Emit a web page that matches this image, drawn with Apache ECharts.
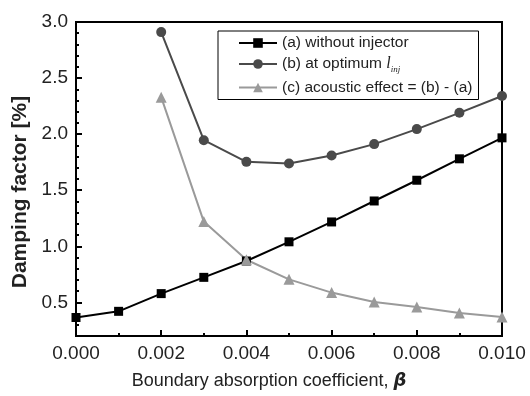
<!DOCTYPE html>
<html>
<head>
    <meta charset="utf-8">
    <title>Damping factor</title>
    <script src="https://cdn.jsdelivr.net/npm/echarts@6/dist/echarts.min.js"></script>
    <style>
        html, body { margin: 0; padding: 0; background: #fff; }
        #chart1 { width: 530px; height: 396px; }
    </style>
</head>
<body>
<div id="chart1"></div>
<script type="text/javascript">
    // boundary absorption coefficient (x)
    var betaValues = [0, 0.001, 0.002, 0.003, 0.004, 0.005, 0.006, 0.007, 0.008, 0.009, 0.010];
    // (a) without injector
    var withoutInjector = [0.365, 0.42, 0.578, 0.723, 0.869, 1.04, 1.217, 1.404, 1.589, 1.78, 1.967];
    // (b) at optimum l_inj
    var atOptimum = [null, null, 2.91, 1.946, 1.753, 1.738, 1.81, 1.911, 2.045, 2.19, 2.34];
    // (c) acoustic effect = (b) - (a)
    var acousticEffect = [null, null, 2.33, 1.22, 0.88, 0.705, 0.587, 0.503, 0.458, 0.405, 0.369];
    // y tick labels
    var yTickLabels = [0.5, 1.0, 1.5, 2.0, 2.5, 3.0];

    function pairs(ys) {
        var out = [];
        for (var i = 0; i < betaValues.length; i++) {
            if (ys[i] !== null) out.push([betaValues[i], ys[i]]);
        }
        return out;
    }

    var font = 'Liberation Sans, Arial, sans-serif';

    var chart = echarts.init(document.getElementById('chart1'));
    chart.setOption({
        animation: false,
        grid: {
            left: 76, right: 28, top: 22, bottom: 60,
            show: true, borderColor: '#000', borderWidth: 2, backgroundColor: 'transparent'
        },
        legend: {
            orient: 'vertical',
            left: 218, top: 31,
            padding: [4, 6, 4, 20],
            itemGap: 5,
            itemWidth: 38,
            itemHeight: 12,
            borderColor: '#000',
            borderWidth: 1,
            textStyle: {
                fontFamily: font, fontSize: 15.5, color: '#222',
                rich: {
                    i: { fontFamily: 'Liberation Serif', fontStyle: 'italic', fontSize: 16, color: '#222' },
                    s: { fontFamily: 'Liberation Serif', fontStyle: 'italic', fontSize: 9, color: '#222', padding: [12, 0, 0, 0] }
                }
            },
            formatter: function (name) {
                if (name === '(b) at optimum') return '(b) at optimum {i|l}{s|inj}';
                return name;
            },
            data: ['(a) without injector', '(b) at optimum', '(c) acoustic effect = (b) - (a)']
        },
        xAxis: {
            type: 'value',
            min: 0, max: 0.01, interval: 0.002,
            name: 'Boundary absorption coefficient, {b|β}',
            nameLocation: 'middle',
            nameGap: 36,
            nameTextStyle: {
                fontFamily: font, fontSize: 18, color: '#222',
                padding: [0, 40, 0, 0],
                rich: { b: { fontFamily: 'DejaVu Sans', fontWeight: 'bold', fontStyle: 'italic', fontSize: 18, color: '#222' } }
            },
            axisLine: { lineStyle: { color: '#000', width: 2 } },
            axisTick: { inside: true, length: 6, lineStyle: { color: '#000', width: 2 } },
            minorTick: { show: true, splitNumber: 2, length: 3, lineStyle: { color: '#000', width: 2 } },
            splitLine: { show: false },
            axisLabel: {
                fontFamily: font, fontSize: 19, color: '#222', margin: 8,
                formatter: function (v) { return v.toFixed(3); }
            }
        },
        yAxis: [{
            type: 'value',
            position: 'left',
            min: 0.2, max: 3.0, interval: 0.1,
            name: 'Damping factor [%]',
            nameLocation: 'middle',
            nameGap: 43,
            nameTextStyle: {
                fontFamily: font, fontSize: 21, fontWeight: 'bold', color: '#222',
                padding: [0, 26, 0, 0]
            },
            axisLine: { lineStyle: { color: '#000', width: 2 } },
            axisTick: { inside: true, length: 3, lineStyle: { color: '#000', width: 2 } },
            splitLine: { show: false },
            axisLabel: {
                fontFamily: font, fontSize: 19, color: '#222', margin: 8,
                formatter: function (v) {
                    for (var i = 0; i < yTickLabels.length; i++) {
                        if (Math.abs(yTickLabels[i] - v) < 1e-6) return yTickLabels[i].toFixed(1);
                    }
                    return '';
                }
            }
        }, {
            type: 'value',
            position: 'left',
            offset: 0,
            min: 0.2, max: 3.0, interval: 0.1,
            axisLine: { show: false },
            axisTick: { inside: true, length: 6, customValues: yTickLabels, lineStyle: { color: '#000', width: 2 } },
            axisLabel: { show: false },
            splitLine: { show: false }
        }],
        series: [{
            name: '(a) without injector',
            type: 'line',
            data: pairs(withoutInjector),
            symbol: 'rect', symbolSize: 9,
            lineStyle: { color: '#000', width: 2 },
            itemStyle: { color: '#000' }
        }, {
            name: '(b) at optimum',
            type: 'line',
            data: pairs(atOptimum),
            symbol: 'circle', symbolSize: 10,
            lineStyle: { color: '#4a4a4a', width: 2 },
            itemStyle: { color: '#4a4a4a' }
        }, {
            name: '(c) acoustic effect = (b) - (a)',
            type: 'line',
            data: pairs(acousticEffect),
            symbol: 'triangle', symbolSize: 11,
            lineStyle: { color: '#9a9a9a', width: 2 },
            itemStyle: { color: '#9a9a9a' }
        }]
    });
</script>
</body>
</html>
